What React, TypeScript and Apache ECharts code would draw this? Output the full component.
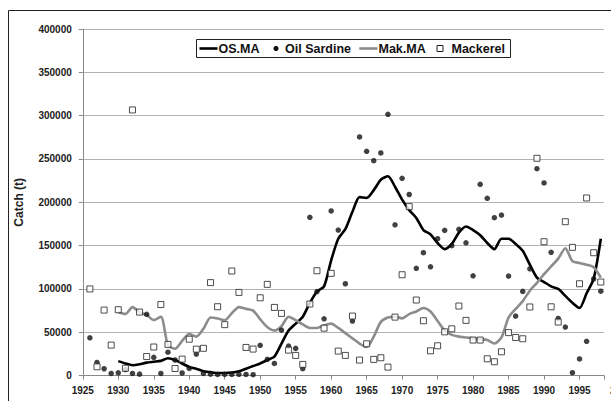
import React, { useEffect, useRef } from "react";
import * as echarts from "echarts";

const years = [
  1926, 1927, 1928, 1929, 1930, 1931, 1932, 1933, 1934, 1935, 1936, 1937, 1938, 1939, 1940,
  1941, 1942, 1943, 1944, 1945, 1946, 1947, 1948, 1949, 1950, 1951, 1952, 1953, 1954, 1955,
  1956, 1957, 1958, 1959, 1960, 1961, 1962, 1963, 1964, 1965, 1966, 1967, 1968, 1969, 1970,
  1971, 1972, 1973, 1974, 1975, 1976, 1977, 1978, 1979, 1980, 1981, 1982, 1983, 1984, 1985,
  1986, 1987, 1988, 1989, 1990, 1991, 1992, 1993, 1994, 1995, 1996, 1997, 1998,
];

const oilSardine = [
  43600, 15200, 7900, 2500, 3200, 7000, 2500, 1700, 70700, 21000, 2500, 27000, 18000, 3000, 8300,
  24800, 2500, 1700, 1300, 1500, 1400, 1500, 1300, 1000, 35000, 18700, 14000, 52500, 34000, 31400,
  8000, 182700, 97000, 65600, 190000, 168000, 106000, 63000, 275400, 258900, 248000, 257000, 301600, 174000, 227700,
  209000, 123800, 141800, 125600, 158000, 167600, 149900, 168800, 153300, 115200, 220800, 204600, 182200, 185300, 114900,
  68700, 97200, 123300, 238800, 222300, 142300, 66000, 56000, 3300, 19200, 39600, 111600, 97400,
];

const mackerel = [
  100000, 10200, 75600, 35200, 76000, 8500, 306600, 73300, 22000, 33000, 82000, 36000, 8200, 19000, 42000,
  30500, 31500, 107300, 79500, 58800, 120700, 96000, 32500, 30600, 89800, 105300, 78700, 71800, 29400, 23300,
  12900, 82600, 121000, 54800, 118000, 28300, 23300, 68700, 17900, 36700, 18700, 20600, 9800, 67500, 116400,
  195000, 87200, 63300, 28600, 34400, 50500, 54000, 80300, 63700, 41000, 41000, 19400, 16000, 27500, 49600,
  44000, 42500, 79200, 250800, 154500, 79400, 61800, 177600, 148000, 106000, 205000, 141800, 108000,
];

const maYears = [
  1930, 1931, 1932, 1933, 1934, 1935, 1936, 1937, 1938, 1939, 1940,
  1941, 1942, 1943, 1944, 1945, 1946, 1947, 1948, 1949, 1950, 1951, 1952, 1953, 1954, 1955,
  1956, 1957, 1958, 1959, 1960, 1961, 1962, 1963, 1964, 1965, 1966, 1967, 1968, 1969, 1970,
  1971, 1972, 1973, 1974, 1975, 1976, 1977, 1978, 1979, 1980, 1981, 1982, 1983, 1984, 1985,
  1986, 1987, 1988, 1989, 1990, 1991, 1992, 1993, 1994, 1995, 1996, 1997, 1998,
];

const osMA = [
  16700, 14000, 12000, 13000, 15000, 16000, 17000, 20000, 18000, 14000, 10000,
  8000, 5000, 4000, 3000, 3000, 3500, 5000, 8000, 11000, 14000, 18000, 22000, 37000, 52000, 60000,
  68000, 84000, 97000, 103000, 133000, 158000, 169000, 189000, 206000, 205000, 214000, 226000, 230000, 218000, 203000,
  191000, 182000, 168000, 163000, 153000, 146000, 152000, 165000, 172000, 168000, 162000, 153000, 146000, 158000, 158000,
  152000, 144000, 128000, 113000, 108000, 103000, 100000, 92000, 84000, 78000, 95000, 112000, 158000,
];

const makMA = [
  73000, 71000, 79000, 73000, 70000, 64000, 68000, 35000, 31000, 40000, 48000,
  45000, 54000, 67000, 66000, 64000, 72000, 79000, 77000, 75000, 65000, 56000, 52000, 57000, 68000, 64000,
  59000, 55000, 55000, 58000, 60000, 55000, 49000, 43000, 37000, 33000, 45000, 62000, 67000, 68000, 66000,
  71000, 74000, 78000, 74000, 63000, 52000, 47000, 45000, 44000, 43000, 42000, 41000, 37000, 44000, 67000,
  77000, 86000, 98000, 107000, 117000, 126000, 135000, 147000, 132000, 130000, 128000, 125000, 113000,
];

const yTicks = { min: 0, max: 400000, interval: 50000 };
const xTicks = { min: 1925, max: 1998.45, interval: 5 };
const cutLabel = "2000";

const FONT = '"Liberation Sans", Arial, sans-serif';

export default function App() {
  const ref = useRef<HTMLDivElement>(null);
  useEffect(() => {
    if (!ref.current) return;
    const chart = echarts.init(ref.current, null, { renderer: "svg" });
    const pair = (xs: number[], vs: number[]) => vs.map((v, i) => [xs[i], v]);
    const legendText = (x: number, t: string) => ({
      type: "text",
      x,
      y: 48.5,
      style: { text: t, font: `bold 12.5px ${FONT}`, fill: "#111", verticalAlign: "middle", align: "left" },
    });
    chart.setOption({
      animation: false,
      backgroundColor: "#fff",
      grid: { left: 82.8, right: 7, top: 29, bottom: 25.4, containLabel: false },
      xAxis: {
        type: "value",
        min: xTicks.min,
        max: xTicks.max,
        interval: xTicks.interval,
        axisLine: { lineStyle: { color: "#888", width: 1 } },
        axisTick: { show: true, length: 4, lineStyle: { color: "#888" } },
        splitLine: { show: false },
        axisLabel: {
          margin: 10,
          fontFamily: FONT,
          fontWeight: "bold",
          fontSize: 10,
          color: "#222",
          formatter: (v: number) => (Math.abs(v % 5) < 1e-6 ? String(v) : ""),
        },
      },
      yAxis: {
        type: "value",
        min: yTicks.min,
        max: yTicks.max,
        interval: yTicks.interval,
        name: "Catch (t)",
        nameLocation: "middle",
        nameGap: 58,
        nameTextStyle: { fontFamily: FONT, fontWeight: "bold", fontSize: 12, color: "#222" },
        axisLine: { show: true, lineStyle: { color: "#888", width: 1 } },
        axisTick: { show: true, length: 4, lineStyle: { color: "#888" } },
        splitLine: { show: true, lineStyle: { color: "#b2b2b2", width: 1 } },
        axisLabel: {
          margin: 11,
          fontFamily: FONT,
          fontWeight: "bold",
          fontSize: 10,
          color: "#222",
          formatter: (v: number) => String(v),
        },
      },
      series: [
        {
          name: "OS.MA",
          type: "line",
          data: pair(maYears, osMA),
          symbol: "none",
          smooth: 0.25,
          lineStyle: { color: "#000", width: 2.6 },
          z: 2,
        },
        {
          name: "Mak.MA",
          type: "line",
          data: pair(maYears, makMA),
          symbol: "none",
          smooth: 0.25,
          lineStyle: { color: "#8c8c8c", width: 2.6 },
          z: 2,
        },
        {
          name: "Oil Sardine",
          type: "scatter",
          data: pair(years, oilSardine),
          symbol: "circle",
          symbolSize: 5.5,
          itemStyle: { color: "#111" },
          z: 3,
        },
        {
          name: "Mackerel",
          type: "scatter",
          data: pair(years, mackerel),
          symbol: "rect",
          symbolSize: 6,
          itemStyle: { color: "#fff", borderColor: "#222", borderWidth: 1 },
          z: 4,
        },
      ],
      graphic: [
        {
          type: "rect",
          shape: { x: 8.5, y: 10.5, width: 700, height: 500 },
          style: { fill: "none", stroke: "#222", lineWidth: 1 },
          silent: true,
        },
        {
          type: "rect",
          shape: { x: 196.5, y: 39.5, width: 314, height: 18 },
          style: { fill: "#fff", stroke: "#222", lineWidth: 1 },
          z: 10,
        },
        { type: "line", shape: { x1: 199.5, y1: 48.5, x2: 217.5, y2: 48.5 }, style: { stroke: "#000", lineWidth: 2.6 }, z: 11 },
        { ...legendText(218.5, "OS.MA"), z: 11 },
        { type: "circle", shape: { cx: 276, cy: 48.5, r: 2.6 }, style: { fill: "#111" }, z: 11 },
        { ...legendText(285, "Oil Sardine"), z: 11 },
        { type: "line", shape: { x1: 359.3, y1: 48.5, x2: 377.5, y2: 48.5 }, style: { stroke: "#8c8c8c", lineWidth: 2.6 }, z: 11 },
        { ...legendText(378.5, "Mak.MA"), z: 11 },
        { type: "rect", shape: { x: 437, y: 45.5, width: 6, height: 6 }, style: { fill: "#fff", stroke: "#222", lineWidth: 1 }, z: 11 },
        { ...legendText(451.5, "Mackerel"), z: 11 },
        {
          type: "text",
          x: 621,
          y: 385.6,
          style: { text: cutLabel, font: `bold 10px ${FONT}`, fill: "#222", align: "center", verticalAlign: "top" },
        },
      ],
    });
    return () => chart.dispose();
  }, []);
  return <div ref={ref} style={{ position: "fixed", left: 0, top: 0, width: 611, height: 401 }} />;
}
